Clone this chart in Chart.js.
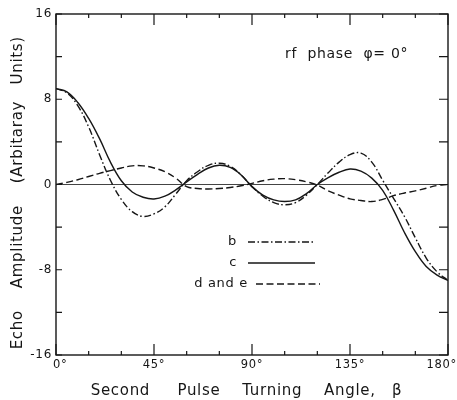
<!DOCTYPE html>
<html><head><meta charset="utf-8">
<script src="https://cdn.jsdelivr.net/npm/chart.js@4"></script>
<style>html,body{margin:0;padding:0;background:#fff}#wrap{width:457px;height:400px}</style>
</head><body><div id="wrap"><canvas id="c" width="457" height="400"></canvas></div>
<script>
// ---- data ----
const angles = [0,5,10,15,20,25,30,35,40,45,50,55,60,65,70,75,80,85,90,95,100,105,110,115,120,125,130,135,140,145,150,155,160,165,170,175,180];
const seriesB = [9.0,8.6,7.4,5.4,2.8,0.4,-1.4,-2.55,-3.0,-2.75,-2.1,-0.9,0.35,1.2,1.8,2.0,1.7,0.9,-0.2,-1.1,-1.7,-1.9,-1.7,-1.0,0.0,1.1,2.1,2.8,2.95,2.1,0.4,-1.3,-3.0,-5.0,-6.9,-8.2,-9.0];
const seriesC = [9.0,8.7,7.7,6.2,4.3,2.1,0.35,-0.7,-1.2,-1.36,-1.1,-0.5,0.25,0.95,1.55,1.8,1.6,0.9,-0.2,-1.0,-1.45,-1.6,-1.45,-0.85,0.0,0.65,1.15,1.45,1.25,0.6,-0.55,-2.4,-4.5,-6.3,-7.7,-8.5,-9.0];
const seriesDE = [0,0.2,0.45,0.75,1.05,1.3,1.55,1.75,1.75,1.55,1.2,0.6,-0.2,-0.38,-0.42,-0.38,-0.28,-0.12,0.1,0.35,0.5,0.55,0.45,0.25,-0.05,-0.6,-1.0,-1.35,-1.5,-1.6,-1.4,-1.05,-0.8,-0.6,-0.35,-0.1,0.0];
const seriesLabels = ['b','c','d and e'];
const xTickLabels = [0,45,90,135,180];
const yTickLabels = [-16,-8,0,8,16];
const xMinorStep = 15;
const yMinorStep = 4;
const annotationText = 'rf  phase  \u03C6= 0\u00B0';
const xTitle = 'Second     Pulse    Turning    Angle,   \u03B2  ';
const yTitle = 'Echo    Amplitude    (Arbitaray   Units)   ';

const INK = '#161616';
const FONT = 'DejaVu Sans';
const styles = [
  {borderDash:[7,2.5,1.5,2.5]},
  {borderDash:[]},
  {borderDash:[7,3.5]}
];
const legendPos = [
  {tx:237, ty:242, x1:248, x2:315},
  {tx:237, ty:263, x1:248, x2:315},
  {tx:248, ty:284, x1:256, x2:320}
];

const toPts = arr => angles.map((a,i)=>({x:a, y:arr[i]}));
const datasets = [seriesB, seriesC, seriesDE].map((arr,i)=>({
  label: seriesLabels[i],
  data: toPts(arr),
  borderColor: INK,
  borderWidth: 1.4,
  borderDash: styles[i].borderDash,
  pointRadius: 0,
  fill: false,
  tension: 0.4
}));

const decor = {
  id: 'decor',
  beforeDraw(chart){
    chart.ctx.letterSpacing = '0.7px';
    // keep the end labels of the x axis inside the canvas like the reference
    const x = chart.scales.x;
    const items = x.getLabelItems();
    if (items.length) {
      const first = items[0].options, last = items[items.length-1].options;
      first.textAlign = 'left';  first.translation = [x.left - 3, first.translation[1]];
      last.textAlign = 'right';  last.translation = [chart.width, last.translation[1]];
    }
  },
  beforeDatasetsDraw(chart){
    const {ctx, chartArea:a, scales:{y}} = chart;
    const y0 = y.getPixelForValue(0);
    ctx.save();
    ctx.strokeStyle = '#444';
    ctx.lineWidth = 1.2;
    ctx.beginPath(); ctx.moveTo(a.left, y0); ctx.lineTo(a.right, y0); ctx.stroke();
    ctx.restore();
  },
  afterDatasetsDraw(chart){
    const {ctx, chartArea:a, scales:{x,y}} = chart;
    ctx.save();
    ctx.strokeStyle = INK;
    ctx.lineWidth = 1.4;
    ctx.strokeRect(a.left, a.top, a.right-a.left, a.bottom-a.top);
    ctx.lineWidth = 1.2;
    ctx.beginPath();
    for (let v = x.min; v <= x.max; v += xMinorStep) {
      const px = x.getPixelForValue(v);
      const major = v % 45 === 0;
      const len = major ? 11 : 4;
      ctx.moveTo(px, a.bottom); ctx.lineTo(px, a.bottom - len);
      ctx.moveTo(px, a.top); ctx.lineTo(px, a.top + len);
    }
    for (let v = y.min; v <= y.max; v += yMinorStep) {
      const py = y.getPixelForValue(v);
      ctx.moveTo(a.left, py); ctx.lineTo(a.left + 6, py);
      ctx.moveTo(a.right, py); ctx.lineTo(a.right - 9, py);
    }
    ctx.stroke();
    ctx.restore();
  },
  afterDraw(chart){
    const {ctx} = chart;
    ctx.save();
    ctx.fillStyle = INK;
    ctx.strokeStyle = INK;
    ctx.font = '13px "' + FONT + '"';
    ctx.textBaseline = 'middle';
    ctx.textAlign = 'right';
    chart.data.datasets.forEach((ds,i)=>{
      const p = legendPos[i];
      ctx.fillText(ds.label, p.tx, p.ty);
      ctx.lineWidth = ds.borderWidth;
      ctx.setLineDash(ds.borderDash);
      ctx.beginPath(); ctx.moveTo(p.x1, p.ty); ctx.lineTo(p.x2, p.ty); ctx.stroke();
    });
    ctx.setLineDash([]);
    ctx.textAlign = 'left';
    ctx.font = '14px "' + FONT + '"';
    ctx.fillText(annotationText, 285, 54);
    ctx.restore();
  }
};

new Chart(document.getElementById('c'), {
  type: 'line',
  data: { datasets },
  options: {
    responsive: false,
    animation: false,
    devicePixelRatio: 1,
    layout: { padding: {top:14, right:9, bottom:0, left:0} },
    plugins: { legend: {display:false}, tooltip: {enabled:false} },
    scales: {
      x: {
        type: 'linear', min: 0, max: 180,
        afterBuildTicks: s => { s.ticks = xTickLabels.map(v=>({value:v})); },
        afterFit: s => { s.height = 45; s.paddingLeft = 0; s.paddingRight = 0; },
        grid: {display:false, drawTicks:false},
        border: {display:false},
        ticks: { padding: 3, maxRotation: 0, autoSkip: false, color: INK,
                 font: {family: FONT, size: 11.5}, callback: v => v + '\u00B0' },
        title: { display: true, text: xTitle, color: INK,
                 font: {family: FONT, size: 15}, padding: {top:0, bottom:0} }
      },
      y: {
        type: 'linear', min: -16, max: 16,
        afterBuildTicks: s => { s.ticks = yTickLabels.map(v=>({value:v})); },
        afterFit: s => { s.width = 56; s.paddingTop = 0; s.paddingBottom = 0; },
        grid: {display:false, drawTicks:false},
        border: {display:false},
        ticks: { padding: 4, color: INK, font: {family: FONT, size: 12},
                 callback: v => String(v) },
        title: { display: true, text: yTitle, color: INK,
                 font: {family: FONT, size: 15}, padding: {top:9.5, bottom:0} }
      }
    }
  },
  plugins: [decor]
});
</script>
</body></html>
